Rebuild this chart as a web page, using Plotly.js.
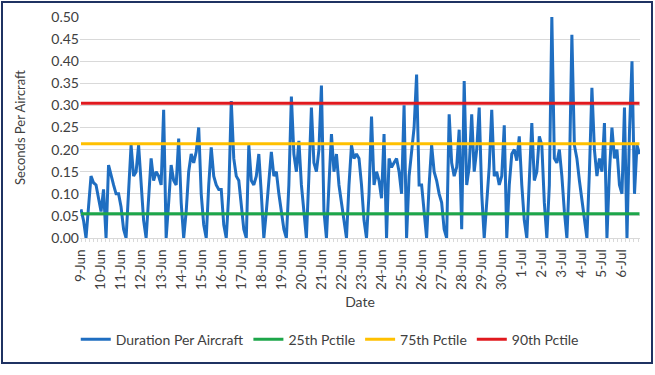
<!DOCTYPE html>
<html><head><meta charset="utf-8">
<script src="https://cdn.plot.ly/plotly-3.0.1.min.js"></script>
<style>
html,body{margin:0;padding:0;background:#fff;}
#chart{width:655px;height:375px;}
#frame{position:absolute;left:1px;top:1px;width:648px;height:359px;border:2px solid #1F3262;pointer-events:none;}
</style>
</head><body>
<div id="chart"></div><div id="frame"></div>
<script>
// Daily tick labels
const dayLabels = ["9-Jun","10-Jun","11-Jun","12-Jun","13-Jun","14-Jun","15-Jun","16-Jun","17-Jun","18-Jun",
  "19-Jun","20-Jun","21-Jun","22-Jun","23-Jun","24-Jun","25-Jun","26-Jun","27-Jun","28-Jun","29-Jun","30-Jun",
  "1-Jul","2-Jul","3-Jul","4-Jul","5-Jul","6-Jul"];
const samplesPerDay = 8; // 3-hourly readings

// Duration per aircraft (seconds), 3-hourly, one week per array
const week1 = [
  0.065,0.04,0.0,0.08,0.14,0.125,0.12,0.09,
  0.06,0.11,0.0,0.165,0.14,0.12,0.10,0.10,
  0.07,0.02,0.0,0.12,0.21,0.14,0.15,0.21,
  0.12,0.04,0.0,0.09,0.18,0.13,0.15,0.14,
  0.12,0.29,0.0,0.08,0.165,0.13,0.12,0.225,
  0.08,0.0,0.06,0.15,0.19,0.17,0.195,0.25,
  0.10,0.03,0.0,0.12,0.205,0.14,0.12,0.11];
const week2 = [
  0.11,0.03,0.0,0.10,0.31,0.18,0.14,0.13,
  0.08,0.02,0.0,0.21,0.13,0.12,0.14,0.19,
  0.10,0.0,0.06,0.12,0.195,0.14,0.15,0.10,
  0.06,0.02,0.0,0.12,0.32,0.19,0.15,0.22,
  0.12,0.05,0.0,0.14,0.295,0.17,0.15,0.20,
  0.345,0.06,0.0,0.12,0.235,0.15,0.19,0.12,
  0.08,0.03,0.0,0.12,0.21,0.18,0.19,0.18];
const week3 = [
  0.12,0.04,0.0,0.10,0.275,0.12,0.15,0.13,
  0.09,0.235,0.0,0.18,0.16,0.17,0.18,0.15,
  0.10,0.30,0.0,0.14,0.20,0.25,0.37,0.12,
  0.12,0.06,0.0,0.12,0.21,0.15,0.13,0.10,
  0.08,0.02,0.0,0.28,0.17,0.14,0.16,0.245,
  0.02,0.355,0.12,0.16,0.28,0.15,0.20,0.295,
  0.10,0.0,0.08,0.16,0.29,0.14,0.15,0.12];
const week4 = [
  0.14,0.255,0.0,0.12,0.19,0.20,0.175,0.23,
  0.12,0.04,0.0,0.14,0.26,0.13,0.15,0.23,
  0.21,0.08,0.0,0.12,0.50,0.18,0.17,0.20,
  0.14,0.06,0.0,0.14,0.46,0.21,0.18,0.13,
  0.09,0.04,0.0,0.15,0.34,0.20,0.14,0.18,
  0.15,0.26,0.0,0.15,0.25,0.18,0.20,0.12,
  0.10,0.295,0.0,0.24,0.40,0.10,0.21,0.19];

// Percentile reference levels
const pctile25 = 0.055;
const pctile75 = 0.213;
const pctile90 = 0.305;

const duration = week1.concat(week2, week3, week4);
const xs = duration.map((_, i) => i / samplesPerDay);
const xEnds = [xs[0], xs[xs.length - 1]];
const dayTicks = dayLabels.map((_, i) => i);

const font = "Lato, 'Open Sans', sans-serif";
const traces = [
  {x: xs, y: duration, type: 'scatter', mode: 'lines', name: 'Duration Per Aircraft',
   line: {color: '#1F6EC1', width: 3}},
  {x: xEnds, y: [pctile25, pctile25], type: 'scatter', mode: 'lines', name: '25th Pctile',
   line: {color: '#1DA64A', width: 3}},
  {x: xEnds, y: [pctile75, pctile75], type: 'scatter', mode: 'lines', name: '75th Pctile',
   line: {color: '#FFC000', width: 3}},
  {x: xEnds, y: [pctile90, pctile90], type: 'scatter', mode: 'lines', name: '90th Pctile',
   line: {color: '#E0191E', width: 3}}
];

const layout = {
  width: 655, height: 375,
  margin: {l: 80, r: 15, t: 17, b: 137},
  paper_bgcolor: '#ffffff', plot_bgcolor: '#ffffff',
  font: {family: font, color: '#404040', size: 13},
  showlegend: true,
  legend: {orientation: 'h', x: 0.446, xanchor: 'center', y: -0.46, yanchor: 'middle',
           font: {size: 14, color: '#404040'}, itemwidth: 30, traceorder: 'normal'},
  xaxis: {
    range: [-0.05, 27.9], tickmode: 'array', tickvals: dayTicks, ticktext: dayLabels,
    tickangle: -90, showgrid: false, zeroline: false, ticks: '', ticklabelstandoff: 5,
    showline: true, linecolor: '#D9D9D9', linewidth: 1,
    tickfont: {size: 13.5, color: '#404040'},
    minor: {tickmode: 'linear', tick0: 0, dtick: 0.2, ticks: 'outside', ticklen: 3, tickcolor: '#D9D9D9', showgrid: false},
    title: {text: 'Date', font: {size: 14, color: '#404040'}, standoff: 8}
  },
  yaxis: {
    range: [0, 0.5], dtick: 0.05, tick0: 0, tickformat: '.2f',
    gridcolor: '#D9D9D9', gridwidth: 1, zeroline: false, showline: false, ticks: '',
    tickfont: {size: 14, color: '#404040'},
    title: {text: 'Seconds Per Aircraft', font: {size: 13, color: '#404040'}, standoff: 22}
  }
};

Plotly.newPlot('chart', traces, layout, {displayModeBar: false, staticPlot: true});
</script>
</body></html>
